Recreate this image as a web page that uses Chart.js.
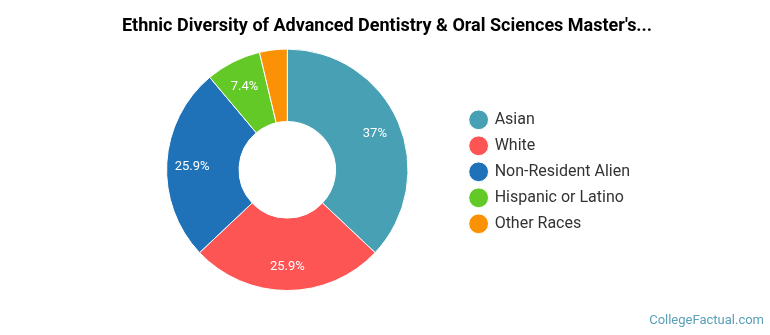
<!DOCTYPE html>
<html>
<head>
<meta charset="utf-8">
<script src="https://cdn.jsdelivr.net/npm/chart.js@4.4.1/dist/chart.umd.min.js"></script>
<style>
  html, body { margin: 0; padding: 0; background: #fff; }
  #wrap { width: 770px; height: 335px; position: relative; }
</style>
</head>
<body>
<div id="wrap"><canvas id="grafica" width="770" height="335"></canvas></div>
<script>
// datos de la grafica
const categorias = ['Asian', 'White', 'Non-Resident Alien', 'Hispanic or Latino', 'Other Races'];
const valores = [37, 25.9, 25.9, 7.4, 3.7];
const etiquetas = ['37%', '25.9%', '25.9%', '7.4%', ''];
const colores = ['#48a0b4', '#fd5454', '#1f72b8', '#62c926', '#fb9205'];

// plugin para escribir los porcentajes dentro de cada segmento y la marca de agua
const textoSegmentos = {
    id: 'textoSegmentos',
    afterDatasetsDraw(chart) {
        const ctx = chart.ctx;
        const meta = chart.getDatasetMeta(0);
        ctx.save();
        ctx.fillStyle = '#ffffff';
        ctx.font = '13px Roboto';
        ctx.textAlign = 'center';
        ctx.textBaseline = 'middle';
        meta.data.forEach(function (arco, i) {
            if (!etiquetas[i]) return;
            const p = arco.getProps(['x', 'y', 'startAngle', 'endAngle', 'outerRadius'], true);
            const medio = (p.startAngle + p.endAngle) / 2;
            const r = p.outerRadius * 0.79;
            ctx.fillText(etiquetas[i], p.x + Math.cos(medio) * r, p.y + Math.sin(medio) * r + 2);
        });
        ctx.fillStyle = '#5a9fb6';
        ctx.font = '13px Roboto';
        ctx.textAlign = 'right';
        ctx.fillText('CollegeFactual.com', 764, 321);
        ctx.restore();
    }
};

// ensancha la leyenda para que el titulo quede centrado en el lienzo
const anchoLeyenda = {
    id: 'anchoLeyenda',
    beforeInit(chart) {
        const fitOriginal = chart.legend.fit;
        chart.legend.fit = function () {
            fitOriginal.bind(chart.legend)();
            this.width += 20;
        };
    }
};

window.onload = function () {
    var ctx = document.getElementById('grafica').getContext('2d');
    new Chart(ctx, {
        type: 'doughnut',
        data: {
            labels: categorias,
            datasets: [{
                data: valores,
                backgroundColor: colores,
                borderColor: '#ffffff',
                borderWidth: 1
            }]
        },
        options: {
            responsive: false,
            maintainAspectRatio: false,
            animation: false,
            cutout: '40%',
            layout: { padding: { left: 114, right: 110, bottom: 44, top: 0 } },
            plugins: {
                title: {
                    display: true,
                    text: "Ethnic Diversity of Advanced Dentistry & Oral Sciences Master's...",
                    color: '#000000',
                    font: { family: 'Roboto', size: 18, weight: 'bold' },
                    padding: { top: 16, bottom: 11 }
                },
                legend: {
                    position: 'right',
                    fullSize: false,
                    title: {
                        display: true,
                        text: ' ',
                        font: { size: 2 },
                        padding: { top: 0, bottom: 1.6 }
                    },
                    labels: {
                        usePointStyle: true,
                        pointStyle: 'circle',
                        boxWidth: 16,
                        boxHeight: 14,
                        padding: 10,
                        color: '#333333',
                        font: { family: 'Roboto', size: 16 }
                    }
                },
                tooltip: { enabled: false }
            }
        },
        plugins: [textoSegmentos, anchoLeyenda]
    });
};
</script>
</body>
</html>
